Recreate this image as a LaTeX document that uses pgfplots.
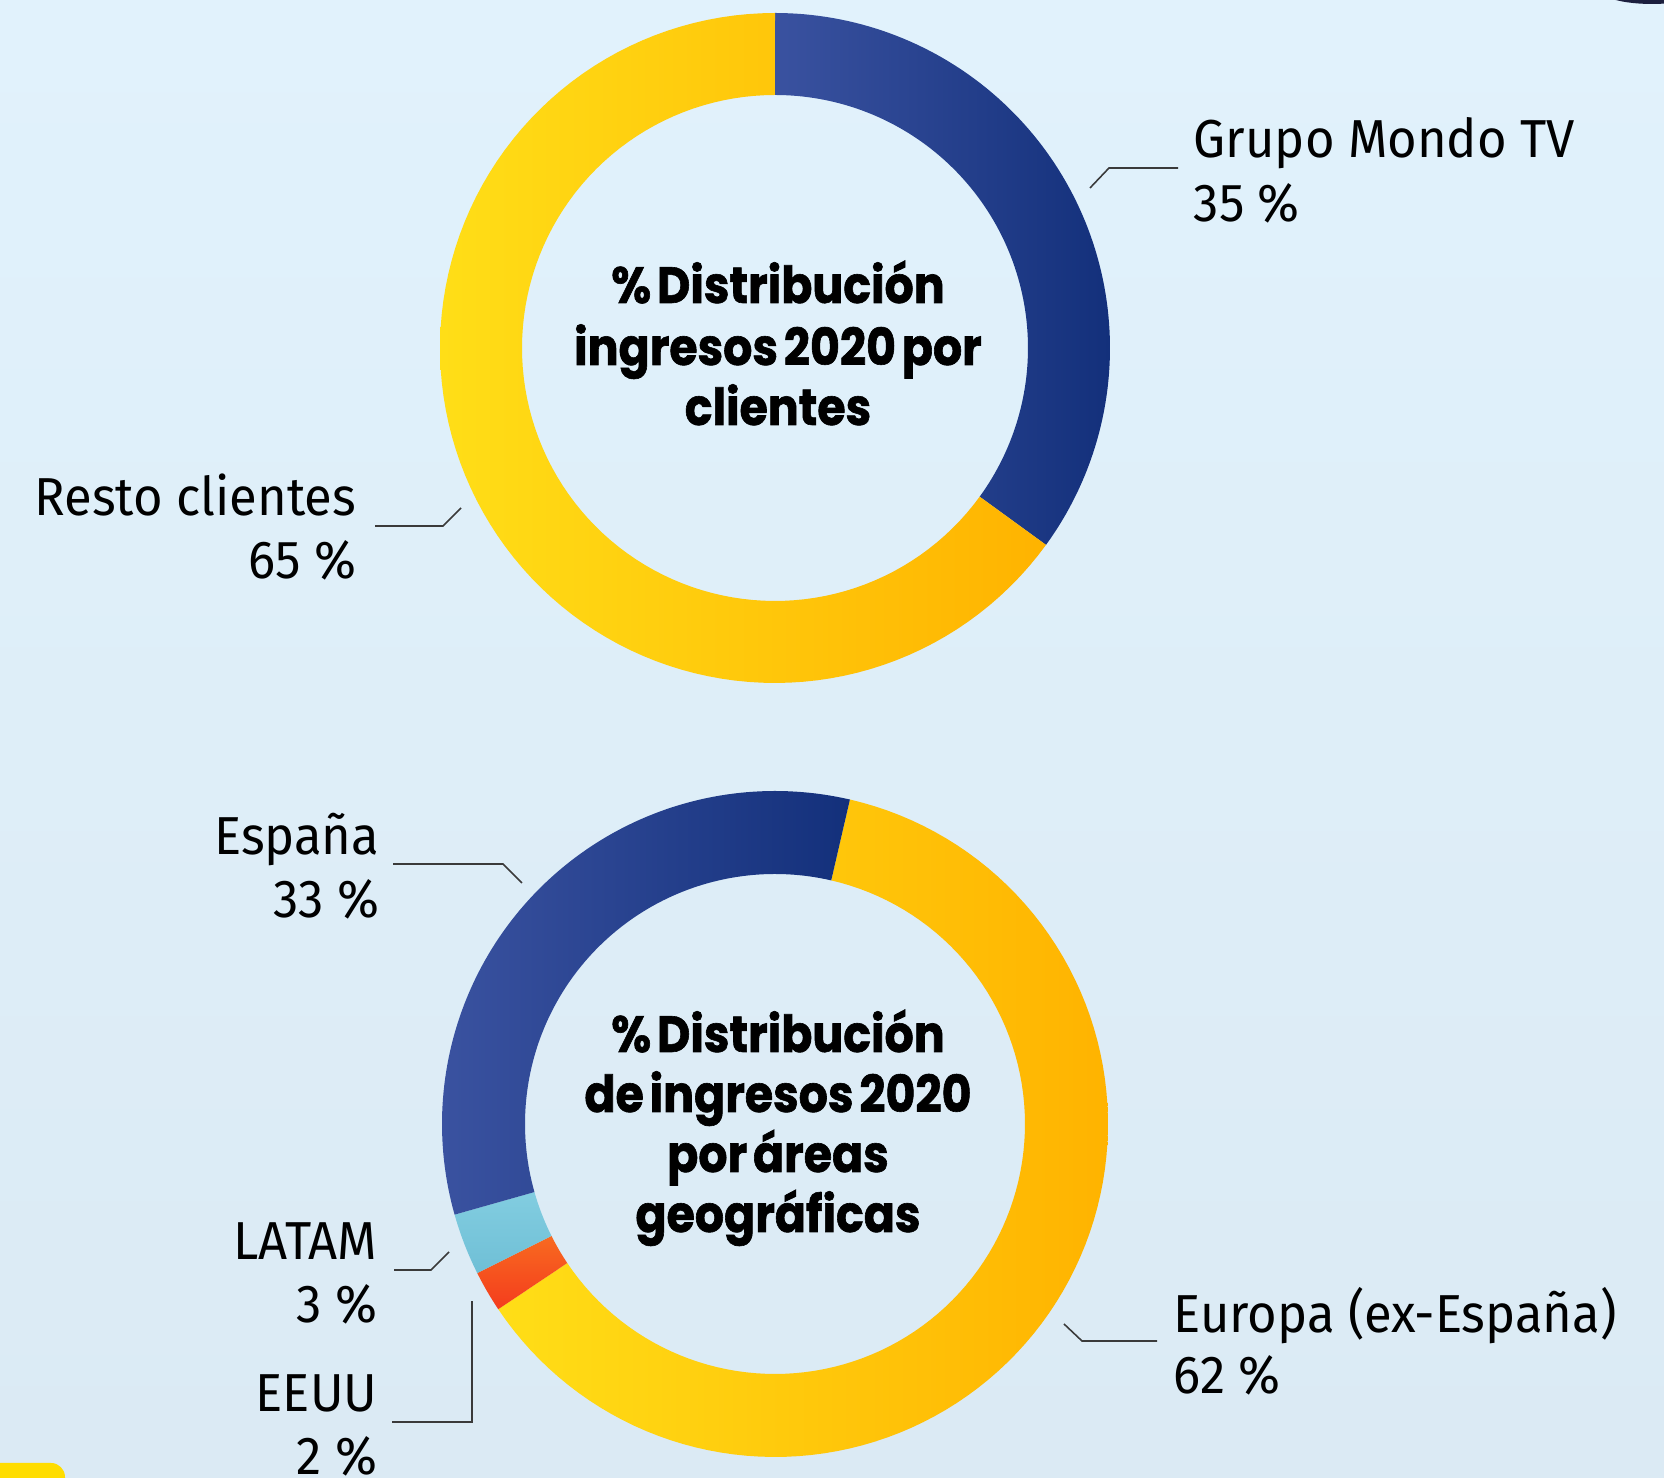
\documentclass[border=0pt]{standalone}
\usepackage{pgfplots}
\pgfplotsset{compat=1.18}
\usepackage{fontspec}
\setmainfont{Fira Sans}[FakeStretch=0.95]
\newfontfamily\titlefont{Poppins}[FakeStretch=0.9, FakeBold=1.2, WordSpace=0.6]
\definecolor{bgtop}{HTML}{E1F2FC}
\definecolor{bgbot}{HTML}{DBEAF4}
\definecolor{blueL}{HTML}{3A52A0}
\definecolor{blueR}{HTML}{13307B}
\definecolor{yelL}{HTML}{FFDE17}
\definecolor{yelR}{HTML}{FFB300}
\definecolor{latT}{HTML}{82CDE0}
\definecolor{latB}{HTML}{6FBFD6}
\definecolor{usT}{HTML}{F86A20}
\definecolor{usB}{HTML}{F43C1D}
\definecolor{leader}{HTML}{3A3A3A}
\definecolor{blob}{HTML}{1C1F3E}
\definecolor{yelbar}{HTML}{FFDD00}
% donut segment: cx, cy, R, r, start angle, end angle, style
% parameter t = 0..100 runs along the outer arc, 101..200 back along the inner arc
\newcommand{\seg}[7]{%
  \addplot[#7, draw=none, variable=\t, samples at={0,1,...,200}]
  ({#1 + (\t<100.5 ? #3 : #4)*cos(#5 + (\t<100.5 ? \t/100 : (200-\t)/99)*((#6)-(#5)))},
   {#2 + (\t<100.5 ? #3 : #4)*sin(#5 + (\t<100.5 ? \t/100 : (200-\t)/99)*((#6)-(#5)))});%
}
\newcommand{\lab}{\fontsize{15.2}{18}\selectfont}
\newcommand{\ttl}{\titlefont\bfseries\fontsize{14.5}{17.4}\selectfont}
\begin{document}
\begin{tikzpicture}
\begin{axis}[
  scale only axis, width=16.64cm, height=14.78cm,
  xmin=0, xmax=1664, ymin=0, ymax=1478,
  hide axis, clip=true]
\fill[top color=bgtop, bottom color=bgbot] (0,0) rectangle (1664,1478);
\fill[blob] (1652,1488) ellipse [x radius=52, y radius=14];
\fill[yelbar] (0,0) -- (0,15) [rounded corners=4pt] -- (65,15) [sharp corners] -- (65,0) -- cycle;
% --- Donut 1: ingresos por clientes (start 90 deg, clockwise)
% Grupo Mondo TV 35 %, Resto clientes 65 %
\seg{775}{1130}{335}{253}{90}{90-3.6*35}{left color=blueL, right color=blueR}
\seg{775}{1130}{335}{253}{90-3.6*35}{90-3.6*100}{left color=yelL, right color=yelR}
% --- Donut 2: por areas geograficas (start 77 deg, clockwise)
% Europa 62 %, EEUU 2 %, LATAM 3 %, Espana 33 %
\seg{775}{354}{333}{250}{77}{77-3.6*62}{left color=yelL, right color=yelR}
\seg{775}{354}{333}{250}{77-3.6*62}{77-3.6*64}{top color=usT, bottom color=usB}
\seg{775}{354}{333}{250}{77-3.6*64}{77-3.6*67}{top color=latT, bottom color=latB}
\seg{775}{354}{333}{250}{77-3.6*67}{77-3.6*100}{left color=blueL, right color=blueR}
% leader lines
\draw[leader, line width=0.45pt] (1090,1290) -- (1109,1310) -- (1178,1310);
\draw[leader, line width=0.45pt] (461,970) -- (443,952) -- (375,952);
\draw[leader, line width=0.45pt] (393,614) -- (503,614) -- (522,595);
\draw[leader, line width=0.45pt] (394,208) -- (431,208) -- (449,226);
\draw[leader, line width=0.45pt] (392,56) -- (472,56) -- (472,177);
\draw[leader, line width=0.45pt] (1064,154) -- (1082,137) -- (1157,137);
% labels
\node[anchor=base west, inner sep=0pt, font=\lab] at (1193,1320) {Grupo Mondo TV};
\node[anchor=base west, inner sep=0pt, font=\lab] at (1193,1256) {35 \%};
\node[anchor=base east, inner sep=0pt, font=\lab] at (357,962) {Resto clientes};
\node[anchor=base east, inner sep=0pt, font=\lab] at (357,899) {65 \%};
\node[anchor=base east, inner sep=0pt, font=\lab] at (380,623) {España};
\node[anchor=base east, inner sep=0pt, font=\lab] at (380,560) {33 \%};
\node[anchor=base east, inner sep=0pt, font=\lab] at (378,218) {LATAM};
\node[anchor=base east, inner sep=0pt, font=\lab] at (378,155) {3 \%};
\node[anchor=base east, inner sep=0pt, font=\lab] at (378,66) {EEUU};
\node[anchor=base east, inner sep=0pt, font=\lab] at (378,3) {2 \%};
\node[anchor=base west, inner sep=0pt, font=\lab] at (1173,145) {Europa (ex-España)};
\node[anchor=base west, inner sep=0pt, font=\lab] at (1173,84) {62 \%};
% titles
\node[anchor=base, inner sep=0pt, font=\ttl] at (778,1175) {\% Distribución};
\node[anchor=base, inner sep=0pt, font=\ttl] at (778,1113) {ingresos 2020 por};
\node[anchor=base, inner sep=0pt, font=\ttl] at (778,1053) {clientes};
\node[anchor=base, inner sep=0pt, font=\ttl] at (778,426) {\% Distribución};
\node[anchor=base, inner sep=0pt, font=\ttl] at (778,366) {de ingresos 2020};
\node[anchor=base, inner sep=0pt, font=\ttl] at (778,306) {por áreas};
\node[anchor=base, inner sep=0pt, font=\ttl] at (778,246) {geográficas};
\end{axis}
\end{tikzpicture}
\end{document}
